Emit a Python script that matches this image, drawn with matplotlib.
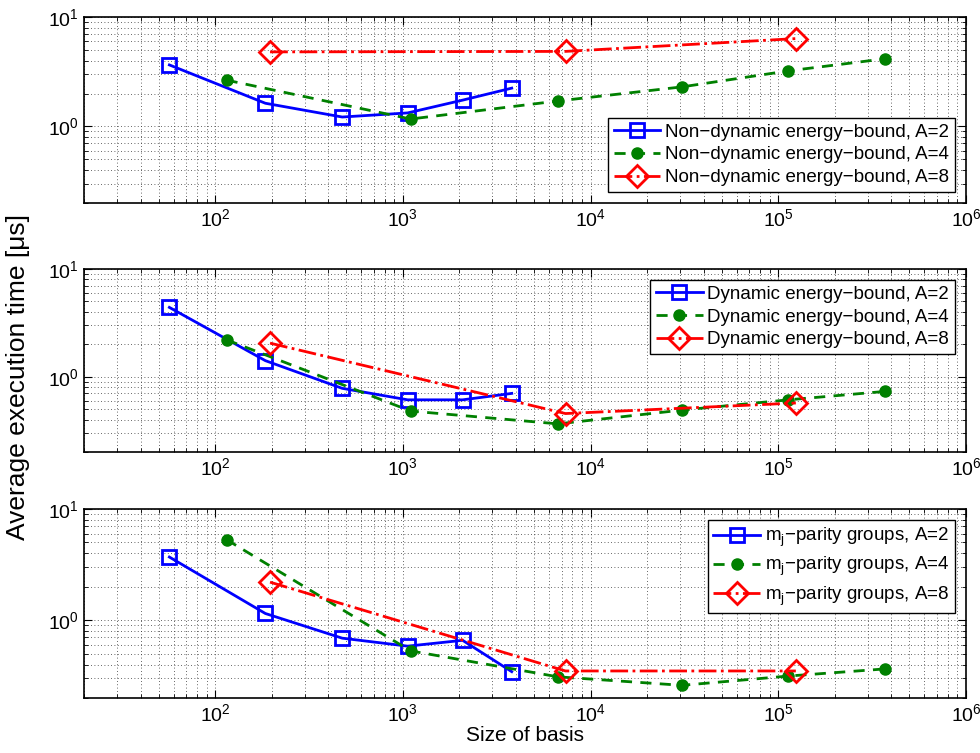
import numpy as np
import matplotlib.pyplot as plt

plt.rcParams['font.family'] = ['Liberation Sans', 'DejaVu Sans']

# basis sizes for each A
x_a2 = [57, 185, 475, 1060, 2080, 3800]
x_a4 = [115, 1100, 6700, 30700, 113000, 369000]
x_a8 = [196, 7350, 124000]

# average execution time [us], one list per panel and A
top_a2 = [3.65, 1.63, 1.22, 1.33, 1.74, 2.24]
top_a4 = [2.65, 1.17, 1.71, 2.3, 3.22, 4.15]
top_a8 = [4.8, 4.85, 6.35]

mid_a2 = [4.4, 1.41, 0.78, 0.61, 0.61, 0.70]
mid_a4 = [2.2, 0.48, 0.365, 0.49, 0.61, 0.73]
mid_a8 = [2.05, 0.455, 0.57]

bot_a2 = [3.7, 1.15, 0.69, 0.585, 0.66, 0.345]
bot_a4 = [5.3, 0.53, 0.31, 0.26, 0.315, 0.365]
bot_a8 = [2.2, 0.35, 0.35]

panel_names = ['Non\u2212dynamic energy\u2212bound',
               'Dynamic energy\u2212bound',
               'm$_\\mathregular{j}$\u2212parity groups']
panel_data = [(top_a2, top_a4, top_a8),
              (mid_a2, mid_a4, mid_a8),
              (bot_a2, bot_a4, bot_a8)]
legend_loc = ['lower right', 'upper right', 'upper right']

fig = plt.figure(figsize=(9.8, 7.53), dpi=100)
H = 753.0
boxes = [(17, 203), (269, 452), (509, 698)]
left, right = 84 / 980, 966 / 980

for k, (top, bot) in enumerate(boxes):
    ax = fig.add_axes([left, 1 - bot / H, right - left, (bot - top) / H])
    y2, y4, y8 = panel_data[k]
    name = panel_names[k]
    ax.plot(x_a2, y2, '-', color='blue', lw=2, marker='s', ms=10,
            mfc='none', mew=2, label=name + ', A=2')
    ax.plot(x_a4, y4, '--', color='green', lw=2, marker='o', ms=8,
            mfc='green', mec='green', label=name + ', A=4', dashes=(4, 3))
    ax.plot(x_a8, y8, '-.', color='red', lw=2, marker='D', ms=11,
            mfc='none', mew=2, label=name + ', A=8')
    ax.set_xscale('log')
    ax.set_yscale('log')
    ax.set_xlim(20, 1e6)
    ax.set_ylim(0.2, 10)
    ax.grid(True, which='both', ls=(0, (1, 3)), color='0.2', lw=0.6)
    ax.tick_params(which='both', direction='in', top=True, right=True,
                   labelsize=14)
    ax.tick_params(which='major', length=6)
    ax.tick_params(which='minor', length=3)
    ax.set_yticks([1, 10])
    ax.set_xticks([1e2, 1e3, 1e4, 1e5, 1e6])
    for sp in ax.spines.values():
        sp.set_linewidth(1.2)
    leg = ax.legend(loc=legend_loc[k], fontsize=13.5, fancybox=False,
                    framealpha=1, edgecolor='black', borderpad=0.3,
                    handlelength=2.5, handletextpad=0.25, labelspacing=0.3,
                    borderaxespad=0.6)
    leg.get_frame().set_linewidth(1.0)
    if k == 2:
        ax.set_xlabel('Size of basis', fontsize=15, labelpad=1)

fig.text(0.018, 0.5, 'Average execution time [\u03bcs]', rotation=90,
         va='center', ha='center', fontsize=19)

fig.savefig('out.png', dpi=100)
